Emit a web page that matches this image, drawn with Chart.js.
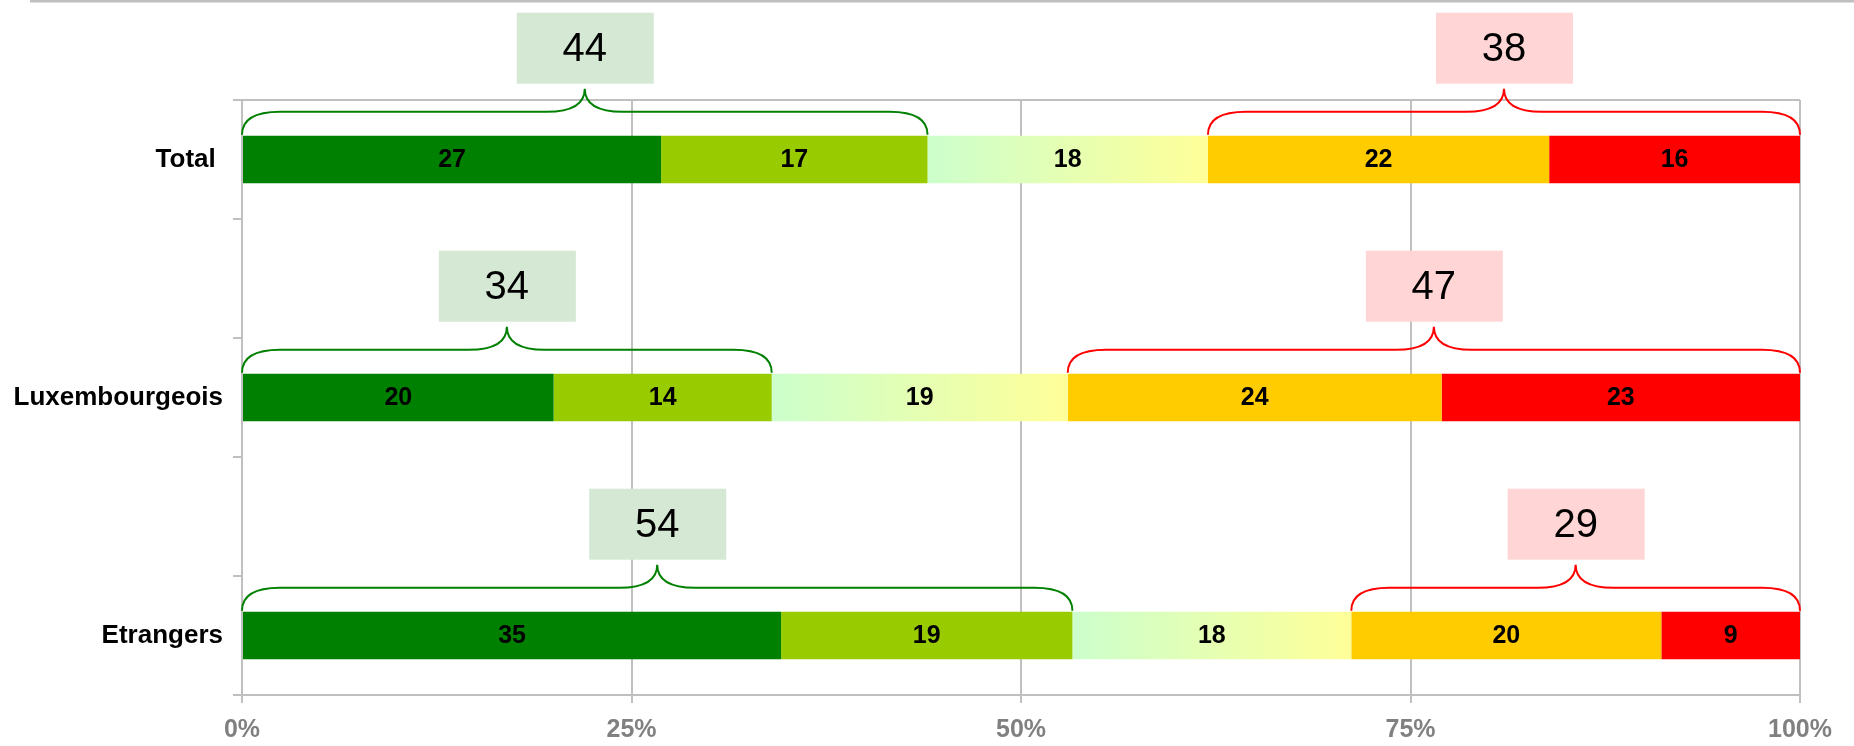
<!DOCTYPE html>
<html>
<head>
<meta charset="utf-8">
<script src="https://cdn.jsdelivr.net/npm/chart.js@4"></script>
<style>
  body { margin: 0; background: #fff; }
  #wrap { width: 1854px; height: 746px; }
</style>
</head>
<body>
<div id="wrap"><canvas id="chart" width="1854" height="746"></canvas></div>
<script>
// blank rows give room for the braces, like the original spreadsheet
const categories = ["Total ", "", "Luxembourgeois", "", "Etrangers"];
const darkGreen  = [26.9, null, 20, null, 34.6];
const lightGreen = [17.1, null, 14, null, 18.7];
const neutral    = [18.0, null, 19, null, 17.9];
const orange     = [21.9, null, 24, null, 19.9];
const red        = [16.1, null, 23, null, 8.9];
const greenTotals = [44, null, 34, null, 54];
const redTotals   = [38, null, 47, null, 29];
const xTicks = [0, 25, 50, 75, 100];

const font = '"Liberation Sans", Arial, sans-serif';
const grey = "#c0c0c0";

function neutralFill(ctx) {
  const chart = ctx.chart;
  const i = ctx.dataIndex;
  if (!chart.chartArea || neutral[i] == null) return "#e6ffb3";
  const start = darkGreen[i] + lightGreen[i];
  const x0 = chart.scales.x.getPixelForValue(start);
  const x1 = chart.scales.x.getPixelForValue(start + neutral[i]);
  const g = chart.ctx.createLinearGradient(x0, 0, x1, 0);
  g.addColorStop(0, "#ccffcc");
  g.addColorStop(1, "#ffff99");
  return g;
}

function brace(c, x0, x1, yEnd, yMid, yTip) {
  const xm = (x0 + x1) / 2;
  const r = 38;
  c.beginPath();
  c.moveTo(x0, yEnd);
  c.quadraticCurveTo(x0, yMid, x0 + r, yMid);
  c.lineTo(xm - r, yMid);
  c.quadraticCurveTo(xm, yMid, xm, yTip);
  c.quadraticCurveTo(xm, yMid, xm + r, yMid);
  c.lineTo(x1 - r, yMid);
  c.quadraticCurveTo(x1, yMid, x1, yEnd);
  c.stroke();
}

const extras = {
  id: "extras",
  afterDatasetsDraw(chart) {
    const c = chart.ctx;
    const x = chart.scales.x;
    c.save();
    // value labels inside the segments
    c.font = "bold 25px " + font;
    c.fillStyle = "#000";
    c.textAlign = "center";
    c.textBaseline = "middle";
    chart.data.datasets.forEach((ds, d) => {
      chart.getDatasetMeta(d).data.forEach((bar, i) => {
        if (ds.data[i] == null) return;
        c.fillText(Math.round(ds.data[i]), (bar.x + bar.base) / 2, bar.y + 1);
      });
    });
    // braces and boxes
    const bars = chart.getDatasetMeta(0).data;
    categories.forEach((cat, i) => {
      if (greenTotals[i] == null) return;
      const top = bars[i].y - bars[i].height / 2;
      const gEnd = darkGreen[i] + lightGreen[i];
      const rStart = gEnd + neutral[i];
      const groups = [
        [0, gEnd, "#008000", "#d5e8d4", greenTotals[i]],
        [rStart, 100, "#ff0000", "#ffd5d5", redTotals[i]]
      ];
      groups.forEach(([a, b, line, fill, num]) => {
        const x0 = x.getPixelForValue(a);
        const x1 = x.getPixelForValue(b);
        const xm = (x0 + x1) / 2;
        c.strokeStyle = line;
        c.lineWidth = 2;
        brace(c, x0, x1, top - 1, top - 24, top - 47);
        c.fillStyle = fill;
        c.fillRect(xm - 68, top - 123, 137, 71);
        c.fillStyle = "#000";
        c.font = "40px " + font;
        c.fillText(num, xm, top - 86);
      });
    });
    c.restore();
  },
  afterDraw(chart) {
    const c = chart.ctx;
    c.save();
    c.fillStyle = "#bfbfbf";
    c.fillRect(30, 0, 1824, 2.5);
    c.restore();
  }
};

const segment = (label, data, color) => ({
  label: label,
  data: data,
  backgroundColor: color,
  borderWidth: 0,
  barPercentage: 0.4,
  categoryPercentage: 1
});

new Chart(document.getElementById("chart"), {
  type: "bar",
  data: {
    labels: categories,
    datasets: [
      segment("1", darkGreen, "#008000"),
      segment("2", lightGreen, "#99cc00"),
      segment("3", neutral, neutralFill),
      segment("4", orange, "#ffcc00"),
      segment("5", red, "#ff0000")
    ]
  },
  options: {
    indexAxis: "y",
    responsive: false,
    animation: false,
    layout: { padding: { top: 100, right: 54, left: 0, bottom: 0 } },
    plugins: { legend: { display: false }, tooltip: { enabled: false } },
    scales: {
      x: {
        stacked: true,
        min: 0,
        max: 100,
        afterBuildTicks(scale) { scale.ticks = xTicks.map(v => ({ value: v })); },
        afterFit(scale) { scale.height = 51; },
        grid: { color: grey, lineWidth: 2, tickLength: 8, tickColor: grey },
        border: { color: grey, width: 2 },
        ticks: {
          padding: 12,
          color: "#808080",
          font: { family: font, size: 25, weight: "bold" },
          callback: v => v + "%"
        }
      },
      y: {
        stacked: true,
        afterFit(scale) { scale.width = 242; },
        grid: {
          offset: true,
          lineWidth: 2,
          tickLength: 9,
          tickColor: grey,
          color: ctx => (ctx.index === 0 ? grey : "rgba(0,0,0,0)")
        },
        border: { color: grey, width: 2 },
        ticks: {
          padding: 10,
          color: "#000",
          font: { family: font, size: 26, weight: "bold" }
        }
      }
    }
  },
  plugins: [extras]
});
</script>
</body>
</html>
